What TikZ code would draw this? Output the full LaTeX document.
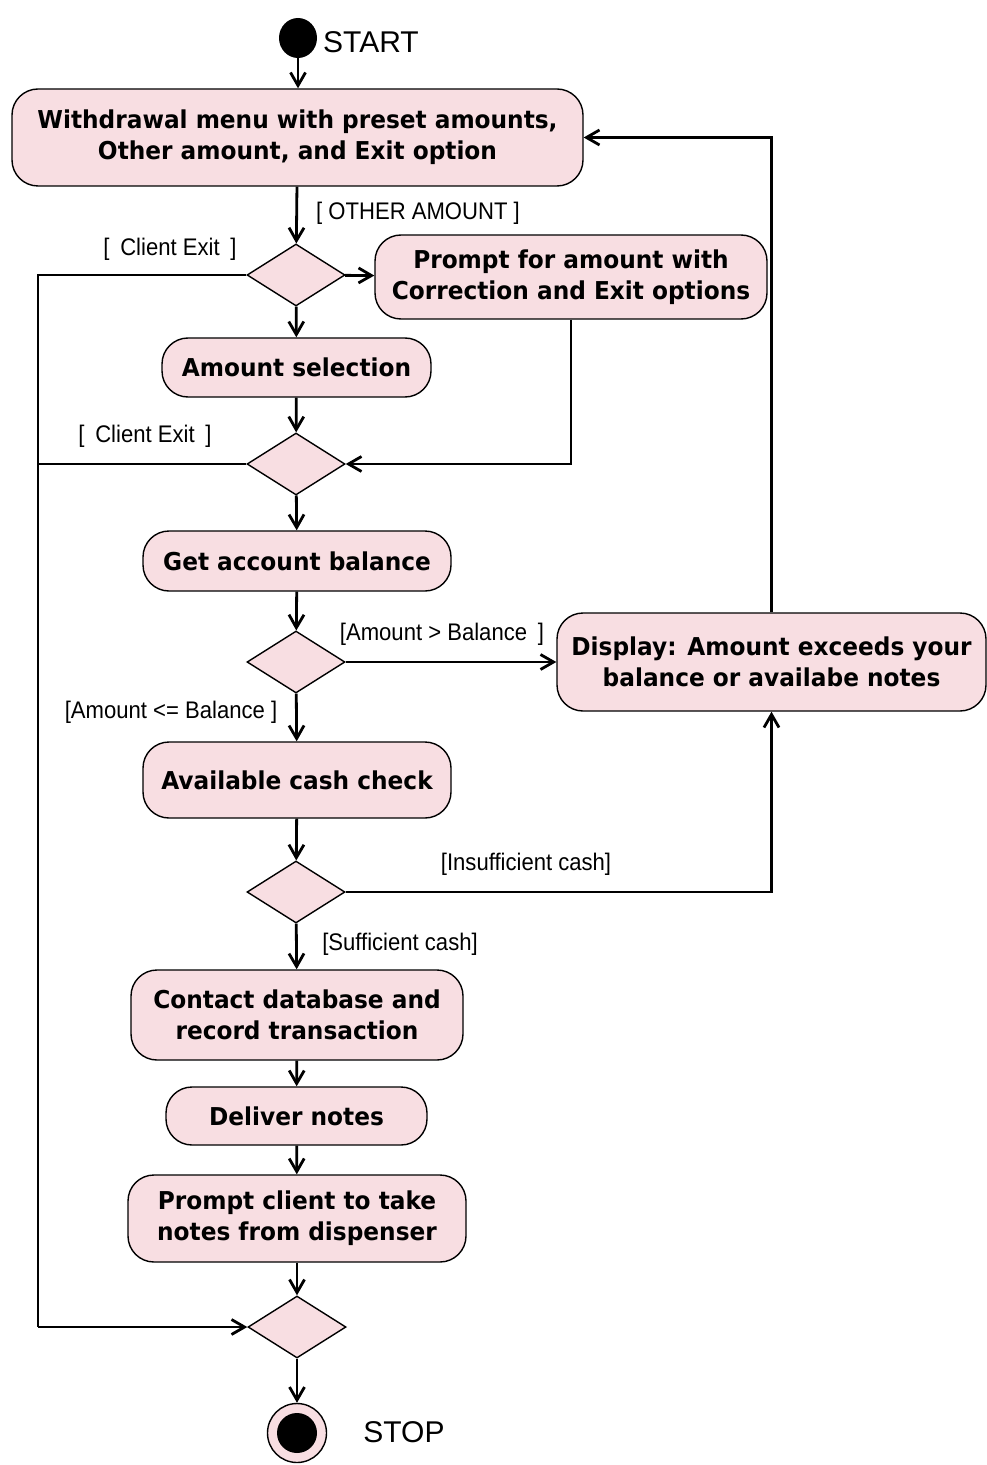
\documentclass[tikz,border=0pt]{standalone}
\usepackage{fontspec}
\usetikzlibrary{shapes.geometric,arrows.meta}
\setmainfont{Liberation Sans}
\newfontfamily\boxfam[FakeStretch=0.945]{DejaVu Sans}
\newfontfamily\lblfam[FakeStretch=0.92]{Liberation Sans}
\definecolor{actpink}{RGB}{248,222,226}
\begin{document}
\begin{tikzpicture}[x=0.5pt,y=-0.5pt,
  act/.style={draw=black, fill=actpink, line width=0.7pt, rounded corners=13pt,
    align=center, inner sep=0pt,
    font=\boxfam\bfseries\fontsize{12.3}{15.5}\selectfont},
  dec/.style={draw=black, fill=actpink, line width=0.7pt, diamond, inner sep=0pt,
    minimum width=49pt, minimum height=31pt},
  lbl/.style={font=\lblfam\fontsize{12}{14}\selectfont, inner sep=0pt},
  term/.style={font=\fontsize{15}{18}\selectfont, inner sep=0pt},
  flow/.style={line width=1.4pt, -{Straight Barb[length=6.5pt,width=7.5pt,line width=1.4pt]}},
  line/.style={line width=1.4pt}
]
\useasboundingbox (0,0) rectangle (986,1465);

% start and stop
\node[ellipse, fill=black, minimum width=19pt, minimum height=20pt, inner sep=0pt] (start) at (298,38) {};
\node[term] (startlbl) at (371,42) {START};
\node[circle, draw=black, fill=actpink, line width=0.7pt, minimum size=29.5pt, inner sep=0pt] (stop) at (297,1433) {};
\node[circle, fill=black, minimum size=20pt, inner sep=0pt] (stopdot) at (297,1433) {};
\node[term] (stoplbl) at (404,1432) {STOP};

% activities
\node[act, minimum width=285.5pt, minimum height=48.5pt] (menu) at (297.5,137.5)
  {Withdrawal menu with preset amounts,\\Other amount, and Exit option};
\node[act, minimum width=196pt, minimum height=42pt] (prompt) at (571,277)
  {Prompt for amount with\\Correction and Exit options};
\node[act, minimum width=134.5pt, minimum height=29.5pt] (select) at (296.5,367.5)
  {Amount selection};
\node[act, minimum width=154pt, minimum height=30pt] (balance) at (297,561)
  {Get account balance};
\node[act, minimum width=214.5pt, minimum height=49pt] (display) at (771.5,662)
  {Display: Amount exceeds your\\balance or availabe notes};
\node[act, minimum width=154pt, minimum height=38pt] (cash) at (297,780)
  {Available cash check};
\node[act, minimum width=166pt, minimum height=45pt] (record) at (297,1015)
  {Contact database and\\record transaction};
\node[act, minimum width=130.5pt, minimum height=29pt] (deliver) at (296.5,1116)
  {Deliver notes};
\node[act, minimum width=169pt, minimum height=43.5pt] (take) at (297,1218.5)
  {Prompt client to take\\notes from dispenser};

% decisions
\node[dec] (d1) at (296,275) {};
\node[dec] (d2) at (296,464) {};
\node[dec] (d3) at (296,662) {};
\node[dec] (d4) at (296,892) {};
\node[dec] (d5) at (297,1327) {};

% exit bus on the left
\coordinate (busTop) at (38,275);
\coordinate (busMid) at (38,464);
\coordinate (busBot) at (38,1327);

% connectors
\draw[flow] (start) -- (start |- menu.north);
\draw[flow] (menu) -- (d1);
\draw[flow] (d1) -- (prompt);
\draw[flow] (d1) -- (select);
\draw[flow] (select) -- (d2);
\draw[flow] (prompt.south) |- (d2.east);
\draw[flow] (d2) -- (balance);
\draw[flow] (balance) -- (d3);
\draw[flow] (d3.east) -- (display.west);
\draw[flow] (display.north) |- (menu.east);
\draw[flow] (d3) -- (cash);
\draw[flow] (cash) -- (d4);
\draw[flow] (d4.east) -| (display.south);
\draw[flow] (d4) -- (record);
\draw[flow] (record) -- (deliver);
\draw[flow] (deliver) -- (take);
\draw[flow] (take) -- (d5);
\draw[flow] (d5) -- (stop);
\draw[line] (d1.west) -- (busTop) -- (busBot);
\draw[flow] (busBot) -- (d5.west);
\draw[line] (d2.west) -- (busMid);

% guards
\node[lbl] (gOther) at (418,213) {[ OTHER AMOUNT ]};
\node[lbl] (gExit1) at (170,249) {[\hspace{0.45em}Client Exit\hspace{0.45em}]};
\node[lbl] (gExit2) at (145,436) {[\hspace{0.45em}Client Exit\hspace{0.45em}]};
\node[lbl] (gGt) at (442,634) {[Amount > Balance\hspace{0.45em}]};
\node[lbl] (gLe) at (171,712) {[Amount <= Balance ]};
\node[lbl] (gIns) at (526,864) {[Insufficient cash]};
\node[lbl] (gSuf) at (400,944) {[Sufficient cash]};
\end{tikzpicture}
\end{document}
